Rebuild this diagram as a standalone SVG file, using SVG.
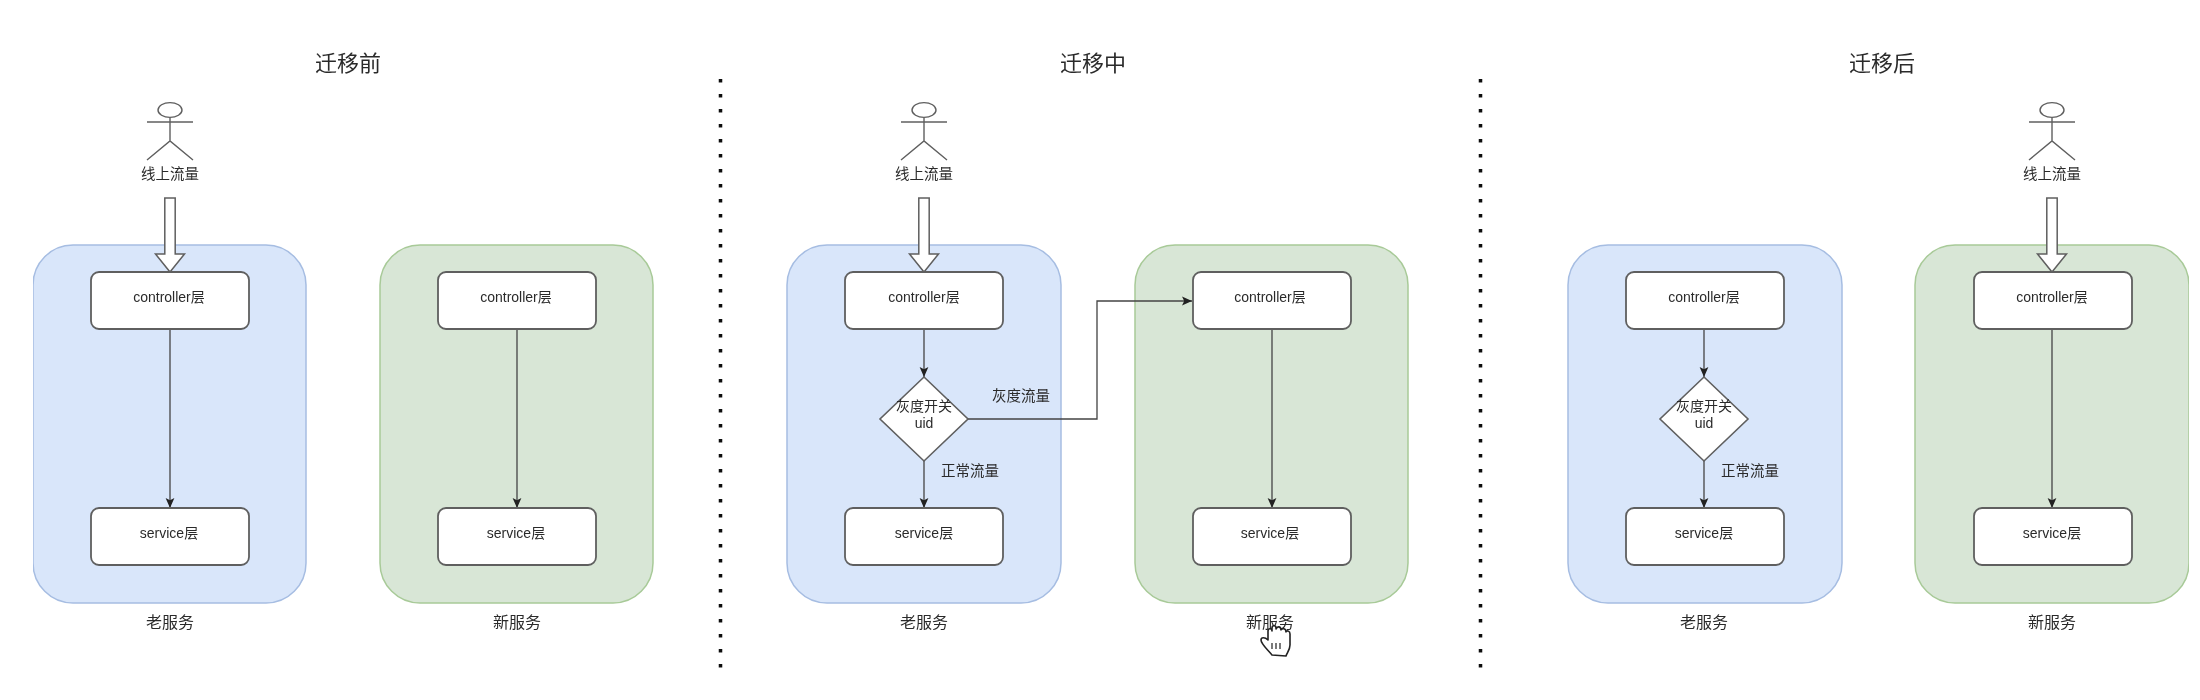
<svg xmlns="http://www.w3.org/2000/svg" width="2200" height="700" viewBox="0 0 2200 700">
<style>
text{font-family:"Liberation Sans","Noto Sans CJK SC",sans-serif;fill:#2b2b2b;text-anchor:middle;dominant-baseline:central;font-size:14px}
.title{font-size:22px}.svc{font-size:16px}.lbl{font-size:14.5px}
.old{fill:#d9e6fa;stroke:#a6bde2;stroke-width:1.5}
.new{fill:#d8e6d6;stroke:#a8ca98;stroke-width:1.5}
.box{fill:#fff;stroke:#5f5f5f;stroke-width:1.8}
.dia{fill:#fff;stroke:#5f5f5f;stroke-width:1.6}
.actor{fill:none;stroke:#5f5f5f;stroke-width:1.4}
.block{fill:#fff;stroke:#5f5f5f;stroke-width:1.5}
.conn{fill:none;stroke:#444;stroke-width:1.3;marker-end:url(#arr)}
.sep{stroke:#111;stroke-width:3.5;stroke-dasharray:3.5 11.5;fill:none}
</style>
<defs>
<marker id="arr" markerUnits="userSpaceOnUse" markerWidth="12" markerHeight="12" refX="10" refY="6" orient="auto"><path d="M0 1.600L10 6L0 10.400L2.200 6Z" fill="#222"/></marker>
<filter id="soft" x="0" y="0" width="100%" height="100%"><feGaussianBlur stdDeviation="0.55"/></filter>
<g id="person"><ellipse cx="0" cy="110" rx="12" ry="7.4"/><path d="M-23 122H23M0 117.500V141M-23 160L0 141L23 160"/></g>
<path id="bigarrow" d="M-5.200 198H5.200V254H14.500L0 272L-14.500 254H-5.200Z"/>
</defs>
<rect width="2200" height="700" fill="#fff"/>
<g filter="url(#soft)">
<g id="separators"><path class="sep" d="M720.500 79V670"/><path class="sep" d="M1480.500 79V670"/></g>
<g id="titles"><text class="title" x="348" y="63">迁移前</text><text class="title" x="1093" y="63">迁移中</text><text class="title" x="1882" y="63">迁移后</text></g>

<g id="old-before"><rect class="old" x="33" y="245" width="273" height="358" rx="40"/><text class="svc" x="170" y="622">老服务</text></g>
<g id="new-before"><rect class="new" x="380" y="245" width="273" height="358" rx="40"/><text class="svc" x="517" y="622">新服务</text></g>
<g id="old-during"><rect class="old" x="787" y="245" width="274" height="358" rx="40"/><text class="svc" x="924" y="622">老服务</text></g>
<g id="new-during"><rect class="new" x="1135" y="245" width="273" height="358" rx="40"/><text class="svc" x="1270" y="622">新服务</text></g>
<g id="old-after"><rect class="old" x="1568" y="245" width="274" height="358" rx="40"/><text class="svc" x="1704" y="622">老服务</text></g>
<g id="new-after"><rect class="new" x="1915" y="245" width="274" height="358" rx="40"/><text class="svc" x="2052" y="622">新服务</text></g>

<g id="connectors">
<path class="conn" d="M170 329V508"/><path class="conn" d="M517 329V508"/>
<path class="conn" d="M924 329V377"/><path class="conn" d="M924 461V508"/>
<path class="conn" d="M968 419H1097V301H1192"/><path class="conn" d="M1272 329V508"/>
<path class="conn" d="M1704 329V377"/><path class="conn" d="M1704 461V508"/><path class="conn" d="M2052 329V508"/>
<use href="#bigarrow" class="block" x="170"/><use href="#bigarrow" class="block" x="924"/><use href="#bigarrow" class="block" x="2052"/>
</g>

<g id="actor-before" class="actor"><use href="#person" x="170"/><text x="170" y="174" class="lbl" stroke="none">线上流量</text></g>
<g id="actor-during" class="actor"><use href="#person" x="924"/><text x="924" y="174" class="lbl" stroke="none">线上流量</text></g>
<g id="actor-after" class="actor"><use href="#person" x="2052"/><text x="2052" y="174" class="lbl" stroke="none">线上流量</text></g>

<g id="c1"><rect class="box" x="91" y="272" width="158" height="57" rx="8"/><text x="169" y="297">controller层</text></g>
<g id="s1"><rect class="box" x="91" y="508" width="158" height="57" rx="8"/><text x="169" y="533">service层</text></g>
<g id="c2"><rect class="box" x="438" y="272" width="158" height="57" rx="8"/><text x="516" y="297">controller层</text></g>
<g id="s2"><rect class="box" x="438" y="508" width="158" height="57" rx="8"/><text x="516" y="533">service层</text></g>
<g id="c3"><rect class="box" x="845" y="272" width="158" height="57" rx="8"/><text x="924" y="297">controller层</text></g>
<g id="d3"><path class="dia" d="M924 377L968 419L924 461L880 419Z"/><text x="924" y="406">灰度开关</text><text x="924" y="423">uid</text></g>
<g id="s3"><rect class="box" x="845" y="508" width="158" height="57" rx="8"/><text x="924" y="533">service层</text></g>
<g id="c4"><rect class="box" x="1193" y="272" width="158" height="57" rx="8"/><text x="1270" y="297">controller层</text></g>
<g id="s4"><rect class="box" x="1193" y="508" width="158" height="57" rx="8"/><text x="1270" y="533">service层</text></g>
<g id="c5"><rect class="box" x="1626" y="272" width="158" height="57" rx="8"/><text x="1704" y="297">controller层</text></g>
<g id="d5"><path class="dia" d="M1704 377L1748 419L1704 461L1660 419Z"/><text x="1704" y="406">灰度开关</text><text x="1704" y="423">uid</text></g>
<g id="s5"><rect class="box" x="1626" y="508" width="158" height="57" rx="8"/><text x="1704" y="533">service层</text></g>
<g id="c6"><rect class="box" x="1974" y="272" width="158" height="57" rx="8"/><text x="2052" y="297">controller层</text></g>
<g id="s6"><rect class="box" x="1974" y="508" width="158" height="57" rx="8"/><text x="2052" y="533">service层</text></g>

<g id="edge-labels"><text class="lbl" x="1021" y="396">灰度流量</text><text class="lbl" x="970" y="471">正常流量</text><text class="lbl" x="1750" y="471">正常流量</text></g>

<g id="cursor"><path d="M1272 655C1268 650 1261 644 1261 640C1261 637 1265 637 1268 640V631C1268 628 1272 628 1272 631V628C1272 625 1276 625 1276 628V629C1277 626 1281 626 1281 630C1282 628 1286 628 1286 632C1287 630 1290 631 1290 634V645C1290 650 1287 653 1286 656Z" fill="#fff" stroke="#222" stroke-width="1.6" stroke-linejoin="round"/><path d="M1272 643V649M1276 643V649M1280 643V649" stroke="#222" stroke-width="1.2"/></g>
</g>
</svg>
